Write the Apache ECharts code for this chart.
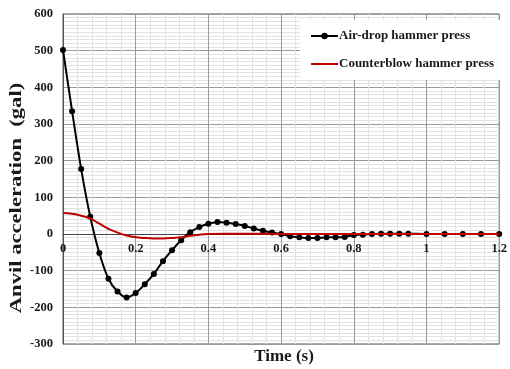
<!DOCTYPE html>
<html>
<head>
<meta charset="utf-8">
<script src="https://cdn.jsdelivr.net/npm/echarts@6/dist/echarts.min.js"></script>
<style>
html,body{margin:0;padding:0;background:#fff;}
#c{width:510px;height:369px;}
</style>
</head>
<body>
<div id="c"></div>
<script>
// ---- data ----
const airTime = [0,0.025,0.05,0.075,0.1,0.125,0.15,0.175,0.2,0.225,0.25,0.275,0.3,0.325,0.35,0.375,0.4,0.425,0.45,0.475,0.5,0.525,0.55,0.575,0.6,0.625,0.65,0.675,0.7,0.725,0.75,0.775,0.8,0.825,0.85,0.875,0.9,0.925,0.95,1.0,1.05,1.1,1.15,1.2];
const airAcc  = [502,335,177,47,-52,-122,-157,-173,-161,-137,-109,-74,-44,-17,5,19,28,33,31,27,22,15,9,4,0,-6,-9,-11,-11,-9,-9,-8,-3,-2,0,1,1,1,1,0,0,0,0,0];
const cbTime  = [0,0.025,0.05,0.075,0.1,0.125,0.15,0.175,0.2,0.225,0.25,0.275,0.3,0.325,0.35,0.375,0.4,0.45,0.5,0.55,0.6,0.7,0.8,0.9,1.0,1.1,1.2];
const cbAcc   = [57,55,50,42,28,14,4,-4,-9,-11,-12,-12,-11,-9,-5,-2,0,1,1,1,0,0,0,0,0,0,0];
const xTicks = [0,0.2,0.4,0.6,0.8,1,1.2];
const yTicks = [-300,-200,-100,0,100,200,300,400,500,600];
const seriesNames = ['Air-drop hammer press','Counterblow hammer press'];
const xTitle = 'Time (s)';
const yTitle = 'Anvil acceleration  (gal)';

const font = '"Liberation Serif","Times New Roman",serif';
const gridTop = 14, gridBottom = 25, H = 369;
const plotH = H - gridTop - gridBottom;
const yMin = yTicks[0], yMax = yTicks[yTicks.length-1];
// place the x axis (line + labels) on y = 0, using the axis scale proportion
const zeroOffset = -plotH * (0 - yMin) / (yMax - yMin);

const chart = echarts.init(document.getElementById('c'));
chart.setOption({
  animation: false,
  backgroundColor: '#fff',
  grid: {left: 63, right: 5, top: gridTop, bottom: gridBottom, show: true, borderColor: '#555', borderWidth: 1, backgroundColor: 'transparent'},
  legend: {
    data: [
      {name: seriesNames[0]},
      {name: seriesNames[1], itemStyle: {opacity: 0}}
    ],
    orient: 'vertical', left: 300, top: 20,
    padding: [8, 8, 8, 10], itemGap: 12, itemWidth: 27, itemHeight: 8,
    backgroundColor: '#fff',
    textStyle: {fontFamily: font, fontWeight: 'bold', fontSize: 13, color: '#1a1a1a', lineHeight: 16, padding: [0,0,0,-4]}
  },
  xAxis: {
    type: 'value', min: xTicks[0], max: xTicks[xTicks.length-1], interval: 0.2,
    offset: zeroOffset,
    axisLine: {show: true, onZero: false, lineStyle: {color: '#444', width: 1}},
    axisTick: {show: false},
    minorTick: {show: false, splitNumber: 5},
    minorSplitLine: {show: true, lineStyle: {color: '#e2e2e2', width: 1}},
    splitLine: {show: true, lineStyle: {color: '#9a9a9a', width: 1}},
    axisLabel: {fontFamily: font, fontWeight: 'bold', fontSize: 12.5, color: '#1a1a1a', margin: 8,
      formatter: v => String(Math.round(v*10)/10)}
  },
  yAxis: {
    type: 'value', min: yMin, max: yMax, interval: 100,
    axisLine: {show: true, lineStyle: {color: '#555'}},
    axisTick: {show: false},
    minorTick: {show: false, splitNumber: 10},
    minorSplitLine: {show: true, lineStyle: {color: '#e2e2e2', width: 1}},
    splitLine: {show: true, lineStyle: {color: '#9a9a9a', width: 1}},
    axisLabel: {fontFamily: font, fontWeight: 'bold', fontSize: 12.5, color: '#1a1a1a', margin: 10}
  },
  graphic: [
    {type: 'text', x: 284, y: 357, style: {text: xTitle, font: 'bold 17px ' + font, fill: '#1a1a1a', align: 'center', verticalAlign: 'middle'}},
    {type: 'text', x: 17, y: 198, rotation: Math.PI/2, scaleX: 1.33,
     style: {text: yTitle, font: 'bold 17px ' + font, fill: '#1a1a1a', align: 'center', verticalAlign: 'middle'}}
  ],
  series: [
    {name: seriesNames[0], type: 'line', smooth: 0.3, data: airTime.map((t,i)=>[t, airAcc[i]]),
     symbol: 'circle', symbolSize: 6, lineStyle: {color: '#000', width: 2}, itemStyle: {color: '#000'}, z: 3},
    {name: seriesNames[1], type: 'line', smooth: 0.4, data: cbTime.map((t,i)=>[t, cbAcc[i]]),
     symbol: 'none', lineStyle: {color: '#c00000', width: 2}, itemStyle: {color: '#c00000'}, z: 4}
  ]
});
</script>
</body>
</html>
